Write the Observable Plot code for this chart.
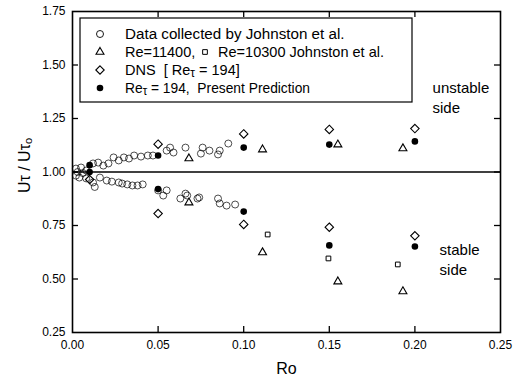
<!DOCTYPE html>
<html><head><meta charset="utf-8">
<script src="https://cdn.jsdelivr.net/npm/d3@7"></script>
<script src="https://cdn.jsdelivr.net/npm/@observablehq/plot@0.6"></script>
<style>body{margin:0;background:#fff}</style>
</head><body><div id="chart"></div>
<script>
// Johnston et al. collected data (open circles): unstable (upper) and stable (lower) branches
const johnstonRo = [0.002,0.003,0.005,0.006,0.008,0.012,0.015,0.018,0.021,0.024,0.027,0.030,0.033,0.036,0.040,0.044,0.047,0.055,0.057,0.059,0.066,0.075,0.076,0.080,0.085,0.086,0.091,
                    0.002,0.004,0.008,0.012,0.013,0.016,0.020,0.023,0.027,0.029,0.032,0.035,0.038,0.041,0.050,0.053,0.055,0.063,0.066,0.067,0.073,0.074,0.085,0.086,0.090,0.095];
const johnstonUt = [1.016,1.000,1.021,0.995,1.007,1.040,1.044,1.030,1.040,1.068,1.054,1.068,1.063,1.077,1.072,1.077,1.077,1.100,1.114,1.091,1.114,1.086,1.114,1.100,1.082,1.100,1.133,
                    0.983,0.974,0.970,0.951,0.930,0.974,0.960,0.955,0.951,0.946,0.942,0.937,0.937,0.942,0.914,0.890,0.914,0.876,0.899,0.890,0.876,0.881,0.876,0.853,0.843,0.848];
// Re = 11400 (triangles)
const triRo = [0.068,0.068,0.111,0.111,0.155,0.155,0.193,0.193];
const triUt = [1.063,0.857,1.105,0.624,1.128,0.488,1.110,0.442];
// Re = 10300 Johnston et al. (squares)
const sqRo = [0.114,0.1495,0.190];
const sqUt = [0.708,0.596,0.568];
// DNS Re_tau = 194 (diamonds)
const dnsRo = [0.01,0.05,0.05,0.10,0.10,0.15,0.15,0.20,0.20];
const dnsUt = [0.965,1.130,0.806,1.178,0.755,1.199,0.742,1.203,0.702];
// Present prediction (filled circles)
const predRo = [0.01,0.01,0.05,0.05,0.10,0.10,0.15,0.15,0.20,0.20];
const predUt = [1.032,1.000,1.077,0.920,1.114,0.815,1.128,0.657,1.143,0.652];

const xTicks = [0, 0.05, 0.10, 0.15, 0.20, 0.25];
const yTicks = [0.25, 0.50, 0.75, 1.00, 1.25, 1.50, 1.75];

const toRows = (xs, ys) => xs.map((ro, i) => ({ro, ut: ys[i]}));
const johnston = toRows(johnstonRo, johnstonUt);
const tri = toRows(triRo, triUt);
const sq = toRows(sqRo, sqUt);
const dns = toRows(dnsRo, dnsUt);
const pred = toRows(predRo, predUt);

const W = 513, H = 385, mt = 11, mb = 53, ml = 72, mr = 13;
const ih = H - mt - mb, iw = W - ml - mr, tk = 6;
const font = "'Liberation Sans', Arial, Helvetica, sans-serif";
const innerX = xTicks.slice(1, -1), innerY = yTicks.slice(1, -1);

const plot = Plot.plot({
  width: W, height: H, marginLeft: ml, marginRight: mr, marginTop: mt, marginBottom: mb,
  style: {fontFamily: font, fontSize: "12px", color: "#000", background: "#fff"},
  x: {domain: [0, 0.25]},
  y: {domain: [0.25, 1.75]},
  marks: [
    Plot.axisX({ticks: xTicks, tickSize: 0, tickPadding: 8, tickFormat: d3.format(".2f"), label: null, fontSize: 12}),
    Plot.axisY({ticks: yTicks, tickSize: 0, tickPadding: 7, tickFormat: d3.format(".2f"), label: null, fontSize: 12}),
    Plot.ruleY([1], {stroke: "#000", strokeWidth: 1.5}),
    Plot.ruleX(innerX, {insetTop: ih - tk, stroke: "#000", strokeWidth: 1.3}),
    Plot.ruleX(innerX, {insetBottom: ih - tk, stroke: "#000", strokeWidth: 1.3}),
    Plot.ruleY(innerY, {insetRight: iw - tk, stroke: "#000", strokeWidth: 1.3}),
    Plot.ruleY(innerY, {insetLeft: iw - tk, stroke: "#000", strokeWidth: 1.3}),
    Plot.frame({stroke: "#000", strokeWidth: 1.6}),
    Plot.dot(johnston, {x: "ro", y: "ut", r: 3.5, stroke: "#000", strokeWidth: 0.7, fill: "none"}),
    Plot.dot(sq, {x: "ro", y: "ut", symbol: "square2", r: 3, stroke: "#000", strokeWidth: 1}),
    Plot.dot(tri, {x: "ro", y: "ut", symbol: "triangle2", r: 3.8, stroke: "#000", strokeWidth: 1.1}),
    Plot.dot(dns, {x: "ro", y: "ut", symbol: "diamond2", r: 3.8, stroke: "#000", strokeWidth: 1.1}),
    Plot.dot(pred, {x: "ro", y: "ut", r: 3.3, fill: "#000", stroke: "none"}),
    Plot.text(["unstable\nside"], {x: 0.2103, y: 1.353, text: d => d, textAnchor: "start", lineHeight: 1.33, fontSize: 15, fill: "#000"}),
    Plot.text(["stable\nside"], {x: 0.2144, y: 0.596, text: d => d, textAnchor: "start", lineHeight: 1.33, fontSize: 15, fill: "#000"}),
    Plot.text(["Ro"], {frameAnchor: "bottom", dy: 41, text: d => d, fontSize: 16, fill: "#000"})
  ]
});

const svg = d3.select(plot);
// Y axis title with subscript
const yl = svg.append("text")
  .attr("transform", `translate(24,${mt + ih / 2 - 6}) rotate(-90)`)
  .attr("text-anchor", "middle").attr("font-family", font).attr("font-size", 16).attr("fill", "#000")
  .attr("dominant-baseline", "central");
yl.append("tspan").text("Uτ / Uτ");
yl.append("tspan").attr("font-size", 11).attr("dy", "0.35em").text("o");

// Legend
const lg = svg.append("g").attr("font-family", font).attr("font-size", 14.5).attr("fill", "#000").attr("text-anchor", "start");
lg.append("rect").attr("x", 80).attr("y", 18).attr("width", 332).attr("height", 84)
  .attr("fill", "#fff").attr("stroke", "#000").attr("stroke-width", 1.2);
const symX = 100, txtX = 125, rows = [34, 52, 70, 88];
const sym = (type, r) => d3.symbol(type, r * r * Math.PI)();
lg.append("circle").attr("cx", symX).attr("cy", rows[0]).attr("r", 3.5).attr("fill", "none").attr("stroke", "#000").attr("stroke-width", 0.9);
lg.append("path").attr("d", sym(d3.symbolTriangle2, 3.8)).attr("transform", `translate(${symX},${rows[1]})`).attr("fill", "none").attr("stroke", "#000").attr("stroke-width", 1.1);
lg.append("path").attr("d", sym(d3.symbolSquare2, 3)).attr("transform", `translate(205,${rows[1]})`).attr("fill", "none").attr("stroke", "#000").attr("stroke-width", 1);
lg.append("path").attr("d", sym(d3.symbolDiamond2, 3.8)).attr("transform", `translate(${symX},${rows[2]})`).attr("fill", "none").attr("stroke", "#000").attr("stroke-width", 1.1);
lg.append("circle").attr("cx", symX).attr("cy", rows[3]).attr("r", 3.3).attr("fill", "#000");

const line = (x, y) => lg.append("text").attr("x", x).attr("y", y).attr("dy", "0.35em").attr("text-anchor", "start");
line(txtX, rows[0]).attr("font-size", 15.2).text("Data collected by Johnston et al.");
line(txtX, rows[1]).text("Re=11400,");
line(218, rows[1]).text("Re=10300 Johnston et al.")
  .attr("textLength", 166).attr("lengthAdjust", "spacingAndGlyphs");
const t3 = line(txtX, rows[2]);
t3.append("tspan").text("DNS  [ Re");
t3.append("tspan").attr("font-size", 12).attr("dy", "0.12em").text("τ");
t3.append("tspan").attr("dy", "-0.12em").text(" = 194]");
const t4 = line(txtX, rows[3]);
t4.append("tspan").text("Re");
t4.append("tspan").attr("font-size", 12).attr("dy", "0.12em").text("τ");
t4.append("tspan").attr("dy", "-0.12em").text(" = 194,  Present Prediction");
t4.attr("textLength", 185).attr("lengthAdjust", "spacingAndGlyphs");

document.getElementById("chart").append(plot);
</script>
</body></html>
